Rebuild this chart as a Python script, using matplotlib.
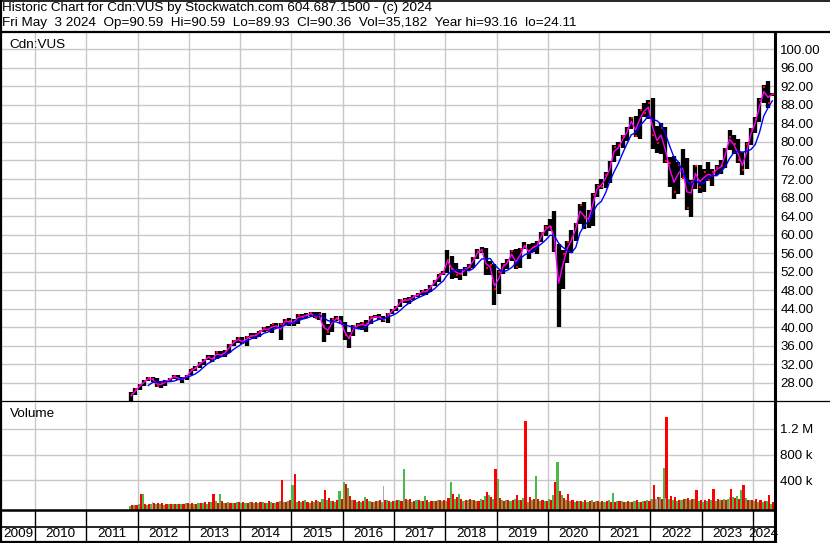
import numpy as np
import pandas as pd
import matplotlib
matplotlib.use("Agg")
import matplotlib.pyplot as plt
from matplotlib.lines import Line2D

plt.rcParams['font.family'] = ['Liberation Sans', 'DejaVu Sans']

# monthly bars, Nov 2011 .. May 2024
start_year, start_month = 2011, 11

close = [
    25.6, 26.6,
    27.6, 28.4, 29.0, 28.8, 27.3, 27.9, 28.4, 28.9, 29.4, 28.9, 29.0, 29.5,
    30.9, 31.3, 32.3, 33.0, 33.6, 33.1, 34.6, 33.7, 34.8, 36.2, 37.0, 37.6,
    36.6, 38.0, 38.2, 38.4, 39.1, 39.8, 39.3, 40.6, 40.1, 40.6, 41.5, 41.3,
    41.0, 42.6, 42.3, 42.6, 43.0, 42.1, 42.9, 40.2, 39.0, 41.8, 41.9, 41.0,
    38.4, 38.2, 40.3, 40.4, 41.0, 40.8, 42.2, 42.3, 42.2, 41.5, 42.9, 43.7,
    44.4, 45.9, 45.8, 46.2, 46.7, 47.0, 47.9, 47.9, 48.9, 50.0, 51.4, 51.8,
    54.6, 52.6, 51.2, 51.5, 52.6, 53.0, 54.9, 56.5, 56.7, 52.7, 53.4, 48.3,
    51.9, 53.5, 54.3, 56.4, 52.9, 56.8, 57.6, 56.5, 57.3, 58.4, 60.3, 61.7,
    61.6, 56.8, 50.4, 55.8, 58.3, 59.2, 62.3, 66.3, 63.6, 63.0, 68.6, 70.5,
    70.2, 72.8, 75.5, 79.0, 79.4, 81.2, 82.9, 85.2, 81.2, 86.9, 86.2, 88.5,
    81.5, 79.8, 83.0, 75.8, 75.4, 69.3, 75.0, 72.3, 65.8, 71.3, 74.8, 70.2,
    73.5, 71.8, 73.5, 74.5, 74.8, 78.5, 81.0, 79.5, 76.0, 74.0, 79.5, 82.8,
    84.9, 89.0, 91.8, 88.3, 90.4,
]
high = [
    26.0, 26.9,
    27.8, 28.6, 29.3, 29.3, 29.0, 28.1, 28.6, 29.1, 29.8, 29.6, 29.3, 29.8,
    31.1, 31.6, 32.5, 33.2, 34.1, 34.0, 34.8, 34.9, 35.1, 36.4, 37.2, 37.9,
    37.9, 38.2, 38.7, 38.7, 39.3, 40.0, 40.2, 40.8, 41.0, 40.9, 41.7, 42.0,
    41.8, 42.8, 42.9, 43.0, 43.4, 43.2, 43.2, 43.1, 40.7, 42.0, 42.4, 42.5,
    41.1, 38.9, 40.5, 41.0, 41.2, 41.5, 42.5, 42.6, 42.8, 42.5, 43.1, 44.0,
    44.6, 46.1, 46.4, 46.5, 47.0, 47.4, 48.1, 48.2, 49.1, 50.2, 51.6, 52.1,
    56.6, 55.3, 53.9, 52.6, 53.1, 53.7, 55.1, 56.8, 57.3, 57.1, 54.3, 53.7,
    52.3, 53.9, 54.8, 56.7, 56.8, 57.2, 58.3, 57.9, 58.1, 58.7, 60.5, 62.0,
    63.3, 65.1, 58.0, 56.6, 58.7, 61.1, 62.6, 66.6, 67.1, 65.4, 69.0, 70.9,
    72.1, 73.6, 75.9, 79.4, 79.9, 81.6, 83.2, 85.4, 85.7, 87.2, 88.4, 89.1,
    89.5, 83.5, 84.1, 83.3, 76.7, 76.9, 75.6, 78.5, 76.5, 71.7, 75.0, 75.1,
    74.1, 75.7, 74.1, 75.1, 76.0, 78.8, 82.6, 81.4, 80.7, 77.9, 79.9, 83.1,
    85.4, 89.4, 92.3, 93.16, 90.59,
]
low = [
    24.1, 25.3,
    26.4, 27.4, 28.3, 28.2, 27.0, 26.9, 27.4, 28.1, 28.8, 28.6, 28.0, 28.7,
    29.6, 30.6, 31.3, 31.8, 32.9, 32.4, 33.2, 33.5, 33.6, 34.4, 36.0, 36.5,
    36.3, 36.0, 37.6, 37.4, 38.0, 39.0, 39.1, 38.8, 39.8, 37.2, 40.5, 40.2,
    40.3, 40.8, 41.7, 42.0, 42.4, 41.9, 41.6, 36.8, 38.3, 38.9, 41.3, 40.6,
    37.2, 35.6, 38.1, 39.6, 39.5, 38.9, 40.7, 41.9, 41.5, 41.2, 40.9, 42.8,
    43.6, 44.3, 45.2, 45.0, 45.8, 46.5, 46.9, 46.9, 47.6, 48.9, 49.8, 51.2,
    51.8, 50.4, 50.6, 50.3, 51.1, 52.3, 52.7, 54.8, 56.1, 51.3, 51.3, 44.8,
    47.2, 51.6, 52.6, 54.3, 52.5, 52.7, 56.8, 54.8, 56.2, 55.8, 58.4, 59.7,
    60.8, 56.3, 40.1, 48.2, 53.9, 56.1, 58.6, 62.3, 61.3, 61.5, 61.9, 68.2,
    69.8, 70.1, 71.2, 75.6, 76.9, 78.8, 80.3, 82.7, 81.0, 80.6, 85.3, 84.9,
    78.4, 77.7, 77.3, 75.5, 70.3, 67.7, 68.8, 72.2, 65.4, 63.9, 69.8, 69.0,
    69.3, 71.6, 70.4, 72.9, 73.0, 74.4, 78.2, 77.5, 75.5, 72.8, 74.1, 79.4,
    81.9, 84.4, 88.5, 87.4, 89.93,
]

# biggest up-week / down-week volume in each month, thousands of shares
vol_up = [
    10, 15,
    30, 185, 25, 40, 30, 35, 25, 30, 40, 35, 30, 45,
    40, 35, 45, 55, 40, 60, 75, 190, 50, 60, 55, 70,
    45, 50, 60, 55, 45, 70, 55, 65, 50, 75, 60, 80,
    330, 70, 60, 90, 50, 60, 85, 120, 95, 85, 60, 230,
    370, 285, 90, 70, 60, 140, 75, 60, 85, 60, 90, 70,
    80, 90, 570, 90, 70, 95, 80, 160, 70, 85, 95, 80,
    75, 374, 110, 195, 80, 90, 100, 75, 110, 160, 180, 120,
    420, 90, 100, 80, 110, 95, 130, 70, 100, 465, 85, 75,
    110, 180, 677, 170, 90, 80, 70, 85, 70, 60, 95, 80,
    60, 70, 90, 205, 75, 80, 60, 70, 80, 65, 75, 90,
    120, 110, 140, 585, 110, 100, 85, 90, 120, 95, 110, 80,
    70, 75, 90, 80, 95, 120, 110, 140, 160, 250, 130, 90,
    80, 70, 60, 75, 30,
]
vol_dn = [
    15, 20,
    190, 40, 35, 50, 55, 45, 40, 35, 30, 40, 35, 50,
    45, 40, 50, 60, 70, 190, 55, 80, 45, 55, 50, 60,
    60, 55, 70, 65, 60, 50, 75, 55, 70, 405, 65, 90,
    497, 80, 85, 70, 75, 90, 70, 255, 130, 80, 95, 120,
    350, 160, 90, 75, 85, 110, 70, 80, 90, 100, 85, 75,
    90, 80, 120, 110, 85, 90, 75, 100, 85, 80, 90, 95,
    130, 190, 140, 120, 95, 110, 90, 85, 100, 220, 150, 570,
    130, 85, 95, 90, 180, 100, 1310, 150, 120, 110, 95, 80,
    100, 378, 240, 130, 190, 95, 80, 75, 90, 85, 70, 75,
    80, 75, 60, 70, 85, 60, 75, 65, 90, 70, 85, 80,
    335, 150, 120, 1380, 160, 140, 90, 110, 130, 120, 250, 100,
    95, 110, 260, 120, 90, 100, 265, 130, 110, 330, 90, 100,
    110, 90, 80, 180, 60,
]
# unchanged weeks (grey bars)
flat_month = ['2012-04', '2016-10', '2018-05', '2022-02', '2022-04', '2023-07']
flat_vol = [60, 310, 70, 120, 130, 150]

year_labels = list(range(2009, 2025))
price_ticks = list(range(28, 101, 4))
vol_ticks = [400, 800, 1200]
vol_tick_labels = ['400 k', '800 k', '1.2 M']

title1 = "Historic Chart for Cdn:VUS by Stockwatch.com 604.687.1500 - (c) 2024"
title2 = ("Fri May  3 2024  Op=90.59  Hi=90.59  Lo=89.93  Cl=90.36  "
          "Vol=35,182  Year hi=93.16  lo=24.11")

# ---------------------------------------------------------------
n = len(close)
t = np.array([start_year + (start_month - 1 + i + 0.5) / 12 for i in range(n)])
close_s = pd.Series(close)
typical = (pd.Series(high) + pd.Series(low) + close_s) / 3
ma_slow = close_s.rolling(5).mean()
ft = [int(s[:4]) + (int(s[5:]) - 0.5) / 12 for s in flat_month]

W, H = 830, 543
fig = plt.figure(figsize=(W / 100, H / 100), dpi=100)


def box(l, top, r, b):
    return [l / W, 1 - b / H, (r - l) / W, (b - top) / H]


def fline(x0, y0, x1, y1, lw):
    fig.add_artist(Line2D([x0 / W, x1 / W], [1 - y0 / H, 1 - y1 / H],
                          transform=fig.transFigure, color='black', lw=lw,
                          solid_capstyle='butt'))


xlim = (2009.347, 2024.408)
grid_c = '#c8c8c8'
year_lines = year_labels[1:]

# price panel
ax = fig.add_axes(box(1.5, 32, 774, 400.7))
ax.set_xlim(*xlim)
ax.set_ylim(24.15, 103.73)
ax.set_axisbelow(True)
ax.set_xticks(year_lines)
ax.set_yticks(price_ticks)
ax.set_yticklabels(['%.2f' % v for v in price_ticks])
ax.yaxis.tick_right()
ax.tick_params(axis='y', length=0, pad=4.5, labelsize=9.5)
ax.tick_params(axis='x', length=0, labelbottom=False)
ax.grid(True, color=grid_c, lw=1.0)
for s in ['top', 'right', 'left']:
    ax.spines[s].set_visible(False)
ax.spines['bottom'].set_linewidth(0.9)

ax.vlines(t, low, high, color='black', lw=3.1, zorder=2)
ax.plot(t + 0.014, close, 's', ms=1.7, mew=0, color='red', zorder=3)
ax.plot(t, typical, color='#ff00ff', lw=1.0, zorder=4)
ax.plot(t, ma_slow, color='#0000ff', lw=1.0, zorder=4)
ax.text(8 / 773, 0.965, 'Cdn:VUS', transform=ax.transAxes, fontsize=9.7,
        va='center', ha='left')

# volume panel
vb = -49
axv = fig.add_axes(box(1.5, 402.9, 774, 509.5))
axv.set_xlim(*xlim)
axv.set_ylim(vb, 1597)
axv.set_axisbelow(True)
axv.set_xticks(year_lines)
axv.set_yticks(vol_ticks)
axv.set_yticklabels(vol_tick_labels)
axv.yaxis.tick_right()
axv.tick_params(axis='y', length=0, pad=4.5, labelsize=9.5)
axv.tick_params(axis='x', length=0, labelbottom=False)
axv.grid(True, color=grid_c, lw=1.0)
for s in ['top', 'right', 'left', 'bottom']:
    axv.spines[s].set_visible(False)
up = np.array(vol_up) - vb
dn = np.array(vol_dn) - vb
axv.bar(t - 0.021, up, bottom=vb, width=0.042, color='#4cb84c', lw=0, zorder=2)
axv.bar(t + 0.021, dn, bottom=vb, width=0.042, color='#ff0000', lw=0, zorder=2)
axv.bar(ft, np.array(flat_vol) - vb, bottom=vb, width=0.03, color='#a8a8a8',
        lw=0, zorder=2)
axv.text(8 / 773, 0.9, 'Volume', transform=axv.transAxes, fontsize=9.7,
         va='center', ha='left')

# year axis
axx = fig.add_axes(box(1.5, 509.5, 774, 542))
axx.set_xlim(*xlim)
axx.set_ylim(0, 1)
axx.axis('off')
axx.vlines(year_lines, 0, 1, color='black', lw=1.0)
for y in year_labels:
    a = max(y, xlim[0])
    b = min(y + 1, xlim[1])
    axx.text((a + b) / 2, 0.24, str(y), ha='center', va='center', fontsize=9.7)

# frame lines
fline(0, 0.7, W, 0.7, 1.2)
fline(0, 32, W, 32, 1.6)
fline(1, 0, 1, H, 1.6)
fline(774.5, 32, 774.5, H, 2.2)
fline(774, 400.7, W, 400.7, 0.9)
fline(0, 509.5, 776, 509.5, 1.8)
fline(0, 526.5, 776, 526.5, 1.2)
fline(0, 542, 776, 542, 1.6)

fig.text(2 / W, 1 - 8 / H, title1, fontsize=9.7, va='center', ha='left')
fig.text(2 / W, 1 - 23 / H, title2, fontsize=9.7, va='center', ha='left')

fig.savefig('out.png', dpi=100)
